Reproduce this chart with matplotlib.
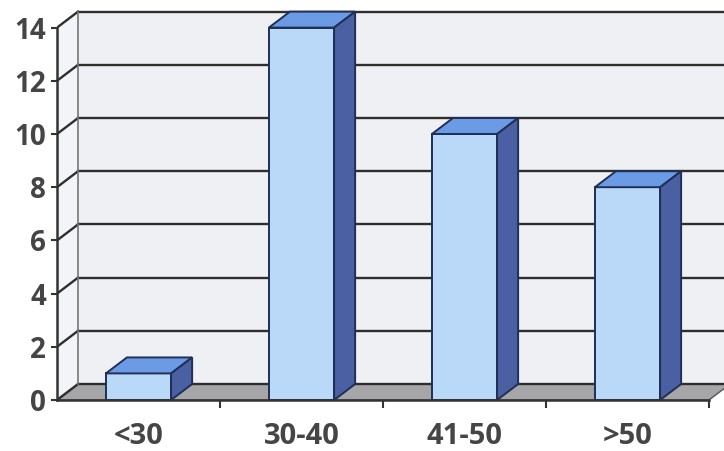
import matplotlib.pyplot as plt
from matplotlib.patches import Polygon

# data
categories = ['<30', '30-40', '41-50', '>50']
counts = [1, 14, 10, 8]
yticks = [0, 2, 4, 6, 8, 10, 12, 14]

# pseudo-3d look (depth offset in data units)
DX = 0.129
DY = 0.60
W = 0.4
ymax = 14

fig = plt.figure(figsize=(7.24, 4.51), dpi=100)
ax = fig.add_axes([57 / 724, 51 / 451, 667 / 724, 400 / 451])
ax.set_xlim(0, 667 / 163)
ax.set_ylim(0, 400 / 26.6)
ax.set_facecolor('white')

grid_c = '#2e2e2e'
n = len(categories)

# walls
ax.add_patch(Polygon([(0, 0), (0, ymax), (DX, ymax + DY), (DX, DY)],
                     closed=True, fc='#f3f4f7', ec='none', zorder=0))
ax.add_patch(Polygon([(DX, DY), (DX, ymax + DY), (n + DX + 1, ymax + DY), (n + DX + 1, DY)],
                     closed=True, fc='#eef0f4', ec='none', zorder=0))
# floor
ax.add_patch(Polygon([(0, 0), (n, 0), (n + DX, DY), (DX, DY)],
                     closed=True, fc='#a6a6a8', ec='#555555', lw=1, zorder=1))

# gridlines on side wall + back wall
for v in yticks:
    ax.plot([0, DX], [v, v + DY], color=grid_c, lw=1.7, zorder=1)
    ax.plot([DX, n + 1], [v + DY, v + DY], color=grid_c, lw=1.7, zorder=1)
ax.plot([DX, DX], [DY, ymax + DY], color='#777777', lw=1.2, zorder=1)

# bars
for i, v in enumerate(counts):
    x0 = i + 0.5 - W / 2
    x1 = i + 0.5 + W / 2
    ax.bar(i + 0.5, v, width=W, color='#bad9f8', edgecolor='#1f2f55', lw=1.4, zorder=3)
    ax.add_patch(Polygon([(x0, v), (x1, v), (x1 + DX, v + DY), (x0 + DX, v + DY)],
                         closed=True, fc='#6c9be6', ec='#1f2f55', lw=1.4, zorder=3))
    ax.add_patch(Polygon([(x1, 0), (x1 + DX, DY), (x1 + DX, v + DY), (x1, v)],
                         closed=True, fc='#4b60a3', ec='#1f2f55', lw=1.4, zorder=3))

# axes
for s in ['top', 'right']:
    ax.spines[s].set_visible(False)
ax.spines['left'].set_bounds(0, ymax)
ax.spines['bottom'].set_bounds(0, n)
for s in ['left', 'bottom']:
    ax.spines[s].set_color('#333333')
    ax.spines[s].set_linewidth(1.8)
    ax.spines[s].set_zorder(5)

yfont = dict(family='Open Sans', weight='bold', size=20, color='#454545')
xfont = dict(family='Open Sans', weight='bold', size=21, color='#454545')
ax.set_yticks(yticks)
ax.set_yticklabels([str(t) for t in yticks], fontdict=yfont)
ax.tick_params(axis='y', length=4, width=1.5, color='#333333', pad=4)

ax.set_xticks([i + 0.5 for i in range(n)])
ax.set_xticklabels(categories, fontdict=xfont)
ax.tick_params(axis='x', which='major', length=0, pad=16)
ax.set_xticks(range(1, n + 1), minor=True)
ax.tick_params(axis='x', which='minor', length=6, width=1.5, color='#333333')

fig.savefig('out.png', dpi=100)
